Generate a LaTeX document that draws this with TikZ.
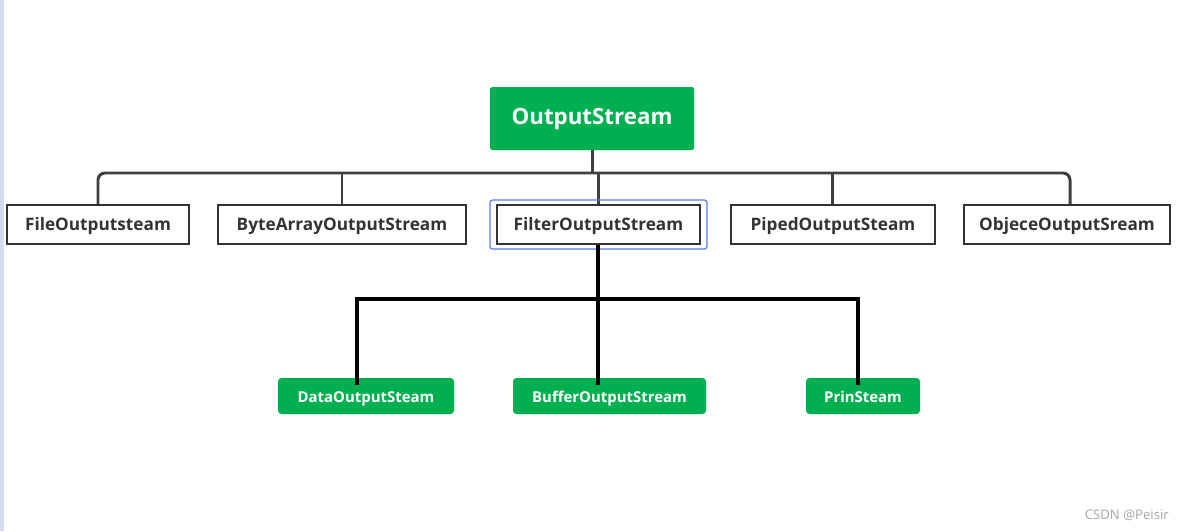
\documentclass[tikz,border=0pt]{standalone}
\usepackage{fontspec}
\setmainfont{Open Sans}
\definecolor{boxgreen}{HTML}{00B050}
\definecolor{boxline}{HTML}{333333}
\definecolor{busline}{HTML}{3F3F3F}
\definecolor{selblue}{HTML}{5B7CF5}
\definecolor{sidebar}{HTML}{D3DCEB}
\tikzset{
  rootbox/.style={fill=boxgreen, rounded corners=1pt, text=white, font=\bfseries\fontsize{12.7}{14}\selectfont,
    minimum width=4.08cm, minimum height=1.26cm, inner sep=0pt, text height=0.964em, text depth=0.25em},
  classbox/.style={draw=boxline, line width=1.1pt, fill=white, text=boxline, font=\bfseries\fontsize{9.8}{12}\selectfont,
    minimum height=0.78cm, inner sep=0pt, text height=0.964em, text depth=0.25em},
  leafbox/.style={fill=boxgreen, rounded corners=2pt, text=white, font=\bfseries\fontsize{8.5}{10}\selectfont,
    minimum height=0.72cm, inner sep=0pt, text height=0.964em, text depth=0.25em},
  bus/.style={draw=busline, line width=1.7pt},
  sub/.style={draw=black, line width=2.2pt}
}
\begin{document}
\begin{tikzpicture}
  \useasboundingbox (0,0) rectangle (23.68,-10.62);
  \fill[white] (0,0) rectangle (23.68,-10.62);
  \fill[sidebar] (0,0) rectangle (0.08,-10.62);
  % top level
  \node[rootbox] (root) at (11.84,-2.37) {OutputStream};
  % bus to the five streams
  \coordinate (busy) at (11.84,-3.46);
  \draw[bus] (root.south) -- (busy);
  \draw[bus, rounded corners=4pt] (1.96,-4.12) |- (21.4,-3.46) -- (21.4,-4.12);
  \foreach \x in {6.84,11.96,16.64}
    \draw[bus, rounded corners=4pt] (\x,-4.12) -- (\x,-3.46);
  % second level
  \node[classbox, minimum width=3.64cm] (file) at (1.96,-4.49) {FileOutputsteam};
  \node[classbox, minimum width=4.96cm] (bytes) at (6.84,-4.49) {ByteArrayOutputStream};
  \node[draw=selblue, line width=0.7pt, rounded corners=1.5pt, minimum width=4.34cm, minimum height=0.98cm] (sel) at (11.97,-4.49) {};
  \node[classbox, minimum width=4.06cm] (filter) at (11.97,-4.49) {FilterOutputStream};
  \node[classbox, minimum width=4.08cm] (piped) at (16.66,-4.49) {PipedOutputSteam};
  \node[classbox, minimum width=4.12cm] (objece) at (21.34,-4.49) {ObjeceOutputSream};
  % third level
  \node[leafbox, minimum width=3.52cm] (data) at (7.32,-7.92) {DataOutputSteam};
  \node[leafbox, minimum width=3.86cm] (buffer) at (12.19,-7.92) {BufferOutputStream};
  \node[leafbox, minimum width=2.28cm] (prin) at (17.26,-7.92) {PrinSteam};
  \coordinate (dataend) at (7.14,-7.7);
  \coordinate (bufend) at (11.96,-7.7);
  \coordinate (prinend) at (17.16,-7.7);
  \begin{scope}[sub]
    \draw (filter.south -| bufend) -- (bufend);
    \draw (dataend) -- (7.14,-5.98) -- (17.16,-5.98) -- (prinend);
  \end{scope}
  \node[text=black!35, font=\fontsize{7.5}{9}\selectfont, anchor=east] (mark) at (23.5,-10.3) {CSDN @Peisir};
\end{tikzpicture}
\end{document}
